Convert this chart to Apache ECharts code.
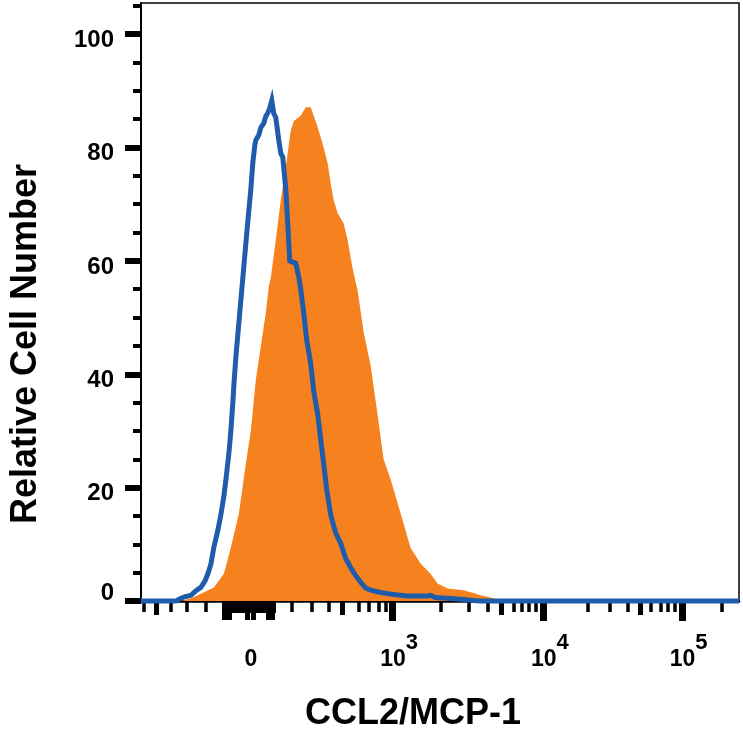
<!DOCTYPE html>
<html><head><meta charset="utf-8">
<script src="https://cdn.jsdelivr.net/npm/echarts@6/dist/echarts.min.js"></script>
<style>html,body{margin:0;padding:0;background:#fff}#c{width:743px;height:745px}</style>
</head><body><div id="c"></div>
<script>
// Display channel (biexponential display units across the plot width)
const isotypeChannel = [0,35,40,45,50,55,60,64,67,70,73,77,80,83,85,88,90,92,93,95,98,100,102,103,105,107,110,112,114,115,118,120,123,125,127,129,131,133,135,138,140,142,145,147,149,152,155,158,160,163,166,170,173,177,180,183,186,190,195,200,205,210,215,220,225,230,240,247,255,267,280,287,290,295,307,320,333,340,599];
const isotypeCount   = [0,0,0.5,0.8,1.0,1.8,2.4,3.5,4.8,6.5,9.5,12.5,15.2,18.5,21.3,26,30,35,38,43,49,53,57,59,63,67,72.6,77.3,80.4,81.3,82.2,83.5,84.3,85.5,86.1,87,88.3,86,85.3,81.3,79,78.3,72.6,66.6,60,59.8,59.6,57.2,55,50.8,46,41.9,37,33,28.5,24.2,19.7,15.2,12,10.2,7.5,5.9,4.5,3.3,2.3,1.9,1.5,1.3,1.1,0.9,0.9,0.9,1.0,0.6,0.5,0.3,0.1,0,0];
const stainedChannel = [40,50,60,73,83,90,98,105,110,115,120,125,128,130,135,140,145,150,153,160,165,170,173,177,183,187,190,193,197,203,207,210,213,217,223,230,237,243,250,253,260,270,280,290,297,307,323,333,340,350,357,362];
const stainedCount   = [0,0.5,1.3,2.4,4.8,9.4,15.4,24.2,30,39,44.9,50.8,55.5,57,63.7,70.7,76.5,83,84.7,85.6,87.1,87.1,85.6,83.6,80,77.2,73.7,70.7,68.4,66.6,63.7,60.6,57.8,54.8,47.4,41.6,32.8,25,21.5,19.7,15.5,9.4,6.6,4.8,3.1,2.2,1.9,1.4,1.0,0.6,0.3,0];

// Axis ticks / labels (display channel positions)
const xTickLabels   = ['0', '10^3', '10^4', '10^5'];
const xLabelPos     = [110, 252, 403, 542];
const xDecadeTicks  = [252, 403, 542];
const xHalfTicks    = [15, 202, 361, 500];
const xMinorTicks   = [3, 30, 46, 65, 151, 171, 188, 218, 228, 238, 245, 300, 328, 347, 373, 381, 388, 395, 447, 470, 488, 511, 521, 528, 535, 582];
const xZeroTicks    = [82, 85, 88, 91, 94, 97, 100, 103, 106, 109, 112, 115, 118, 121, 124, 127, 130, 133];
const xZeroTallTicks = [83, 88, 106, 112, 127, 131];
const yTickLabels   = [0, 20, 40, 60, 80, 100];
const yMinorTicks   = [5, 10, 15, 25, 30, 35, 45, 50, 55, 65, 70, 75, 85, 90, 95, 105];

const FONT = '"Liberation Sans", Arial, sans-serif';
const X_MAX = 599, Y_MAX = 105.5;

function tickAxis(values, len, width) {
  return {
    type: 'value', gridIndex: 0, position: 'bottom', min: 0, max: X_MAX,
    axisLine: { show: false }, splitLine: { show: false },
    axisLabel: { show: false },
    axisTick: { show: true, customValues: values, length: len, lineStyle: { color: '#000', width: width } }
  };
}

const yLabelStyle = { fontFamily: FONT, fontWeight: 'bold', fontSize: 24, color: '#000' };

const chart = echarts.init(document.getElementById('c'), null, { renderer: 'canvas' });
chart.setOption({
  animation: false,
  backgroundColor: '#fff',
  grid: { left: 140, right: 4, top: 3, bottom: 144, show: true, borderColor: '#000', borderWidth: 1.5, backgroundColor: 'transparent' },
  xAxis: [
    {
      type: 'value', gridIndex: 0, position: 'bottom', min: 0, max: X_MAX,
      name: 'CCL2/MCP-1', nameLocation: 'middle', nameGap: 95,
      nameTextStyle: { fontFamily: FONT, fontWeight: 'bold', fontSize: 36, color: '#000', padding: [0, 54, 0, 0] },
      axisLine: { show: true, onZero: false, lineStyle: { color: '#000', width: 2.5 } },
      splitLine: { show: false },
      axisTick: { show: true, customValues: xDecadeTicks, length: 20, lineStyle: { color: '#000', width: 7 } },
      axisLabel: {
        show: true, customValues: xLabelPos, margin: 31,
        formatter: function (v) {
          const i = xLabelPos.indexOf(v);
          const t = i >= 0 ? xTickLabels[i] : '';
          if (t.indexOf('^') >= 0) {
            const p = t.split('^');
            return '{b|' + p[0] + '}{e|' + p[1] + '}';
          }
          return '{z|' + t + '}';
        },
        rich: {
          b: { fontFamily: FONT, fontWeight: 'bold', fontSize: 23, color: '#000', padding: [16, 0, 0, 13] },
          z: { fontFamily: FONT, fontWeight: 'bold', fontSize: 23, color: '#000', padding: [16, 0, 0, 0] },
          e: { fontFamily: FONT, fontWeight: 'bold', fontSize: 22, color: '#000', verticalAlign: 'top' }
        }
      }
    },
    tickAxis(xHalfTicks, 14, 5),
    tickAxis(xMinorTicks, 11, 3.5),
    tickAxis(xZeroTicks, 12, 3),
    tickAxis(xZeroTallTicks, 19, 5)
  ],
  yAxis: [
    {
      type: 'value', gridIndex: 0, position: 'left', min: 0, max: Y_MAX,
      name: 'Relative Cell Number', nameLocation: 'middle', nameGap: 97,
      nameTextStyle: { fontFamily: FONT, fontWeight: 'bold', fontSize: 36, color: '#000', padding: [0, 84, 0, 0] },
      axisLine: { show: true, onZero: false, lineStyle: { color: '#000', width: 2 } },
      splitLine: { show: false },
      axisTick: { show: true, customValues: yTickLabels, length: 16, lineStyle: { color: '#000', width: 6 } },
      axisLabel: {
        show: true, customValues: yTickLabels, margin: 27,
        formatter: function (v) { return v === 0 ? '{lo|' + v + '}' : '{n|' + v + '}'; },
        rich: {
          n: Object.assign({ padding: [12, 0, 0, 0] }, yLabelStyle),
          lo: Object.assign({ padding: [0, 0, 16, 0] }, yLabelStyle)
        }
      }
    },
    {
      type: 'value', gridIndex: 0, position: 'left', min: 0, max: Y_MAX,
      axisLine: { show: false }, splitLine: { show: false }, axisLabel: { show: false },
      axisTick: { show: true, customValues: yMinorTicks, length: 8, lineStyle: { color: '#000', width: 4 } }
    }
  ],
  series: [
    {
      name: 'CCL2/MCP-1', type: 'line', xAxisIndex: 0, yAxisIndex: 0,
      data: stainedChannel.map((c, i) => [c, stainedCount[i]]),
      showSymbol: false, symbol: 'none', smooth: false,
      lineStyle: { width: 0, color: '#f5821f' },
      areaStyle: { color: '#f5821f', opacity: 1 },
      z: 2
    },
    {
      name: 'Isotype', type: 'line', xAxisIndex: 0, yAxisIndex: 0,
      data: isotypeChannel.map((c, i) => [c, isotypeCount[i]]),
      showSymbol: false, symbol: 'none', smooth: false, clip: false,
      lineStyle: { width: 5, color: '#1f5cab', join: 'miter' },
      z: 3
    }
  ]
});
</script>
</body></html>
